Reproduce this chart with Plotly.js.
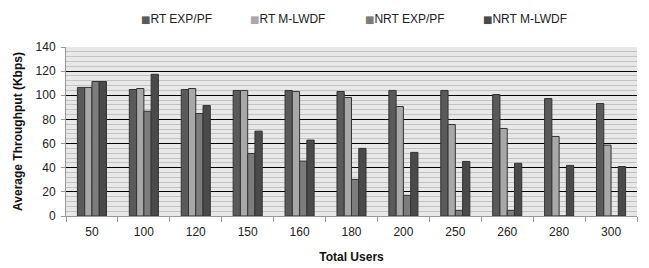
<!DOCTYPE html>
<html>
<head>
<meta charset="utf-8">
<script src="https://cdn.plot.ly/plotly-3.0.1.min.js"></script>
<style>html,body{margin:0;padding:0;background:#fff;}#chart{width:649px;height:268px;}</style>
</head>
<body>
<div id="chart"></div>
<script>
const categories = ["50","100","120","150","160","180","200","250","260","280","300"];
const seriesNames = ["RT EXP/PF","RT M-LWDF","NRT EXP/PF","NRT M-LWDF"];
const rtExpPf   = [106.5,104.8,104.8,104,104,103.1,104,104,100.6,97.3,93.2];
const rtMLwdf   = [106.5,105.6,105.6,104,103.1,98.2,90.7,75.8,72.5,65.9,58.7];
const nrtExpPf  = [111.4,86.8,84.9,51.8,45.5,30.3,17.1,4.7,4.7,0,0];
const nrtMLwdf  = [111.4,117.4,91.5,70.3,62.9,56,52.7,45.2,43.6,41.9,41];
const yTicks = [0,20,40,60,80,100,120,140];

const colors = ["#5a5a5a","#a8a8a8","#7c7c7c","#4a4a4a"];
const allSeries = [rtExpPf, rtMLwdf, nrtExpPf, nrtMLwdf];
const traces = allSeries.map((vals,i)=>({
  type:"bar", name:seriesNames[i], x:categories, y:vals,
  marker:{color:colors[i], line:{color:"#333333", width:1}}
}));

// legend drawn as text entries above the plot
const legendX = [0.127, 0.319, 0.520, 0.727];
const annotations = seriesNames.map((n,i)=>({
  xref:"paper", yref:"paper", x:legendX[i], y:1.163, xanchor:"left", yanchor:"middle",
  showarrow:false, align:"left",
  text:'<span style="color:'+colors[i]+';font-family:DejaVu Sans;font-size:10px">■</span>'+n,
  font:{size:12, color:"#222"}
}));

const layout = {
  width:649, height:268,
  margin:{l:66, r:12, t:47, b:52},
  paper_bgcolor:"#ffffff", plot_bgcolor:"#e8e8e8",
  font:{family:"Liberation Sans, Arial, sans-serif", size:12, color:"#222"},
  barmode:"group", bargap:0.44, bargroupgap:0,
  showlegend:false,
  annotations:annotations,
  xaxis:{type:"category", showgrid:false, tickson:"boundaries", ticks:"outside", ticklen:5,
    tickcolor:"#999", showline:true, linecolor:"#999", linewidth:1, ticklabelstandoff:5,
    tickfont:{size:12}, title:{text:"Total Users", font:{size:12, weight:"bold", color:"#111"}, standoff:14}},
  yaxis:{range:[0,140], tickvals:yTicks, ticktext:yTicks.map(String), showgrid:true, gridcolor:"#000", gridwidth:1,
    minor:{dtick:4, showgrid:true, gridcolor:"#c2c2c2", gridwidth:1},
    ticks:"outside", ticklen:4, tickcolor:"#999", showline:true, linecolor:"#999",
    zeroline:false, tickfont:{size:12}, ticklabelstandoff:3,
    title:{text:"Average Throughput (Kbps)", font:{size:12, weight:"bold", color:"#111"}, standoff:10}}
};
Plotly.newPlot("chart", traces, layout, {staticPlot:true, displayModeBar:false});
</script>
</body>
</html>
